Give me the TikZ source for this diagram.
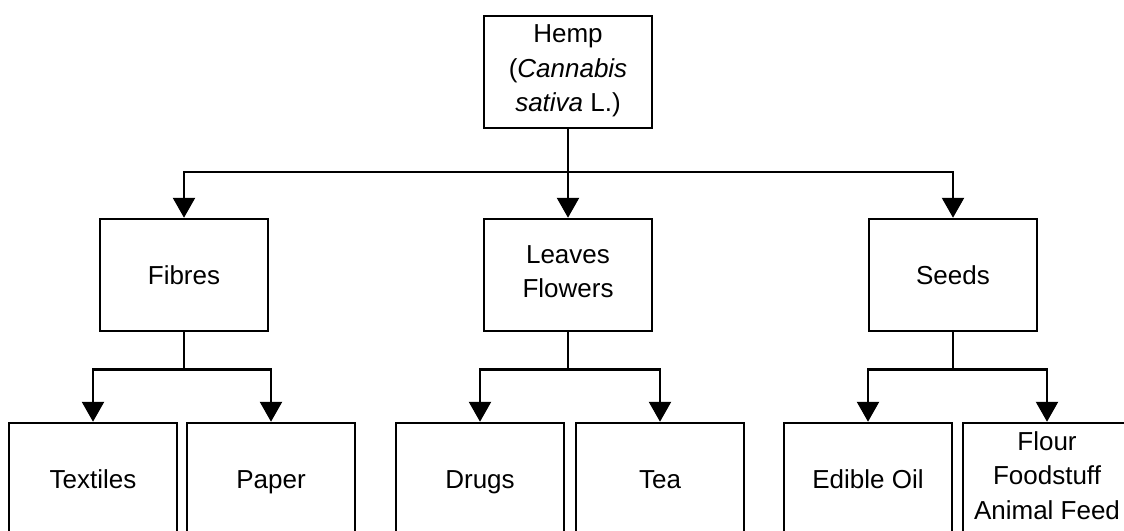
\documentclass[tikz,border=0pt]{standalone}
\usepackage{fontspec}
\setmainfont{Liberation Sans}
\usetikzlibrary{arrows.meta}
\newcommand\boxstrut{\rule[-7pt]{0pt}{33pt}}
\begin{document}
\begin{tikzpicture}[x=1pt,y=-1pt,
  box/.style={draw,line width=2.5pt,minimum width=168pt,minimum height=112pt,align=center,inner sep=0pt,font=\fontsize{26}{34.5}\selectfont,execute at begin node=\boxstrut,execute at end node=\boxstrut},
  link/.style={line width=2.5pt},
  arr/.style={line width=2.5pt,-{Triangle[width=22pt,length=20pt]}}]
\clip (0,0) rectangle (1124,530);
\fill[white] (0,0) rectangle (1124,530);
\node[box] (hemp) at (568,72) {Hemp\\(\textit{Cannabis}\\\textit{sativa} L.)};
\node[box] (fibres) at (184,275) {Fibres};
\node[box] (leaves) at (568,275) {Leaves\\Flowers};
\node[box] (seeds) at (953,275) {Seeds};
\node[box] (textiles) at (93,479) {Textiles};
\node[box] (paper) at (271,479) {Paper};
\node[box] (drugs) at (480,479) {Drugs};
\node[box] (tea) at (660,479) {Tea};
\node[box] (oil) at (868,479) {Edible Oil};
\node[box] (flour) at (1047,479) {Flour\\Foodstuff\\Animal Feed};
\coordinate (j0) at (568,172);
\draw[link] (hemp.south) -- (j0);
\draw[arr] (j0) -| (fibres.north);
\draw[arr] (j0) -- (leaves.north);
\draw[arr] (j0) -| (seeds.north);
\draw[arr] (fibres.south) -- ++(0,37) -| (textiles.north);
\draw[arr] (fibres.south) -- ++(0,37) -| (paper.north);
\draw[arr] (leaves.south) -- ++(0,37) -| (drugs.north);
\draw[arr] (leaves.south) -- ++(0,37) -| (tea.north);
\draw[arr] (seeds.south) -- ++(0,37) -| (oil.north);
\draw[arr] (seeds.south) -- ++(0,37) -| (flour.north);
\end{tikzpicture}
\end{document}
